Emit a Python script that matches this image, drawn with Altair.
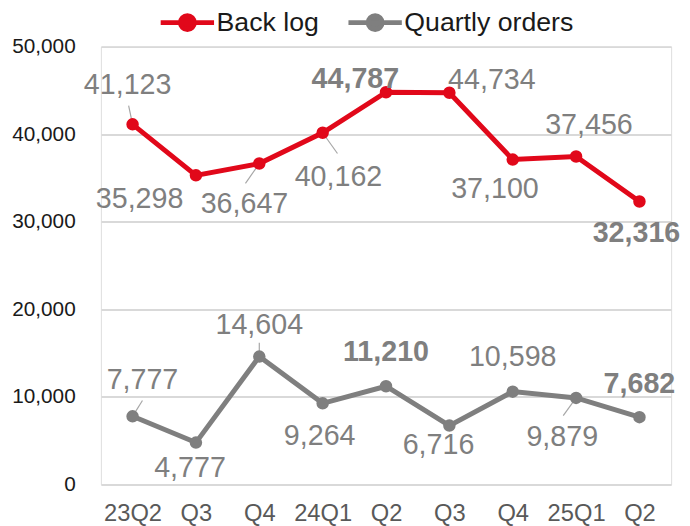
import json
import altair as alt
import pandas as pd

# ---- data ----
quarters = ["23Q2", "23Q3", "23Q4", "24Q1", "24Q2", "24Q3", "24Q4", "25Q1", "25Q2"]
tick_labels = ["23Q2", "Q3", "Q4", "24Q1", "Q2", "Q3", "Q4", "25Q1", "Q2"]
series_names = ["Back log", "Quartly orders"]
backlog = [41123, 35298, 36647, 40162, 44787, 44734, 37100, 37456, 32316]
orders = [7777, 4777, 14604, 9264, 11210, 6716, 10598, 9879, 7682]

# ---- styling (label placement in pixels relative to each point) ----
colors = ["#E1081A", "#7F7F7F"]
backlog_bold = [False, False, False, False, True, False, False, False, True]
orders_bold = [False, False, False, False, True, False, False, False, True]
backlog_dx = [-5, -57, -15, 16, -31, 43, -18, 13, -3]
backlog_dy = [-40, 24, 41, 45, -13, -13, 30, -32, 32]
orders_dx = [10, -6, 0, -3, 0, -11, 0, -14, 0]
orders_dy = [-37, 26, -32, 33, -35, 20, -35, 40, -33]
# leader lines: (series, index, dx, dy) end offset from the point, in pixels
leaders = [(0, 0, -4, -19), (0, 2, -14, 20), (0, 3, 15, 21),
           (1, 0, 10, -16), (1, 2, 0, -14), (1, 7, -13, 18)]

FONT = "Liberation Sans"

rows = []
for s, vals in [(series_names[0], backlog), (series_names[1], orders)]:
    for i, v in enumerate(vals):
        rows.append({"series": s, "idx": i, "value": v, "label": f"{v:,}"})
df = pd.DataFrame(rows)

lrows = []
for k, (si, i, dx, dy) in enumerate(leaders):
    v = (backlog if si == 0 else orders)[i]
    lrows.append({"idx": i, "value": v, "path": f"M0,0L{dx},{dy}"})
ldf = pd.DataFrame(lrows)

label_expr = json.dumps(tick_labels) + "[datum.value]"

x = alt.X("idx:Q",
          scale=alt.Scale(domain=[-0.5, 8.5], nice=False, zero=False),
          axis=alt.Axis(values=list(range(len(quarters))), labelExpr=label_expr,
                        grid=False, ticks=False, tickSize=0, domain=False, title=None,
                        labelFontSize=24, labelColor="#595959", labelFont=FONT,
                        labelPadding=18))
y = alt.Y("value:Q",
          scale=alt.Scale(domain=[0, 50000], nice=False),
          axis=alt.Axis(values=[0, 10000, 20000, 30000, 40000, 50000], format=",.0f",
                        gridColor="#D9D9D9", gridWidth=2, domain=False, ticks=False,
                        tickSize=0, title=None, labelFontSize=21, labelColor="#1A1A1A",
                        labelFont=FONT, labelPadding=26))

legend_path = ("M-1,0L1,0M0.26,0A0.26,0.26,0,1,1,-0.26,0"
               "A0.26,0.26,0,1,1,0.26,0Z")
color = alt.Color("series:N",
                  scale=alt.Scale(domain=series_names, range=colors),
                  legend=alt.Legend(orient="none", legendX=58, legendY=-54,
                                    direction="horizontal", title=None,
                                    symbolType=legend_path, symbolSize=2916,
                                    symbolStrokeWidth=5, labelFontSize=27,
                                    labelFont=FONT, labelColor="#1A1A1A",
                                    labelOffset=0, columnPadding=19, padding=0,
                                    labelLimit=400, symbolOpacity=1))

base = alt.Chart(df)

leader_layer = alt.Chart(ldf).mark_point(
    filled=False, size=4, color="#A6A6A6", strokeWidth=1.2, opacity=1
).encode(x=x, y=y, shape=alt.Shape("path:N", scale=None))

lines = base.mark_line(strokeWidth=5).encode(x=x, y=y, color=color)
points = base.mark_point(filled=True, size=160, opacity=1).encode(x=x, y=y, color=color)

label_layers = []
for s, vals, bold, dxs, dys in [
    (series_names[0], backlog, backlog_bold, backlog_dx, backlog_dy),
    (series_names[1], orders, orders_bold, orders_dx, orders_dy),
]:
    for i in range(len(vals)):
        label_layers.append(
            base.transform_filter(f"datum.series == '{s}' && datum.idx == {i}")
            .mark_text(fontSize=29, font=FONT, color="#7F7F7F",
                       fontWeight="bold" if bold[i] else "normal",
                       baseline="middle", align="center", dx=dxs[i], dy=dys[i])
            .encode(x=x, y=y, text="label:N")
        )

chart = alt.layer(leader_layer, lines, points, *label_layers).properties(
    width=577, height=443,
    autosize=alt.AutoSizeParams(type="none"),
    padding={"left": 94, "top": 36, "right": 11, "bottom": 40},
).configure_view(stroke=None).configure(background="white")

chart.save("out.html", embed_options={"renderer": "svg", "actions": False})
